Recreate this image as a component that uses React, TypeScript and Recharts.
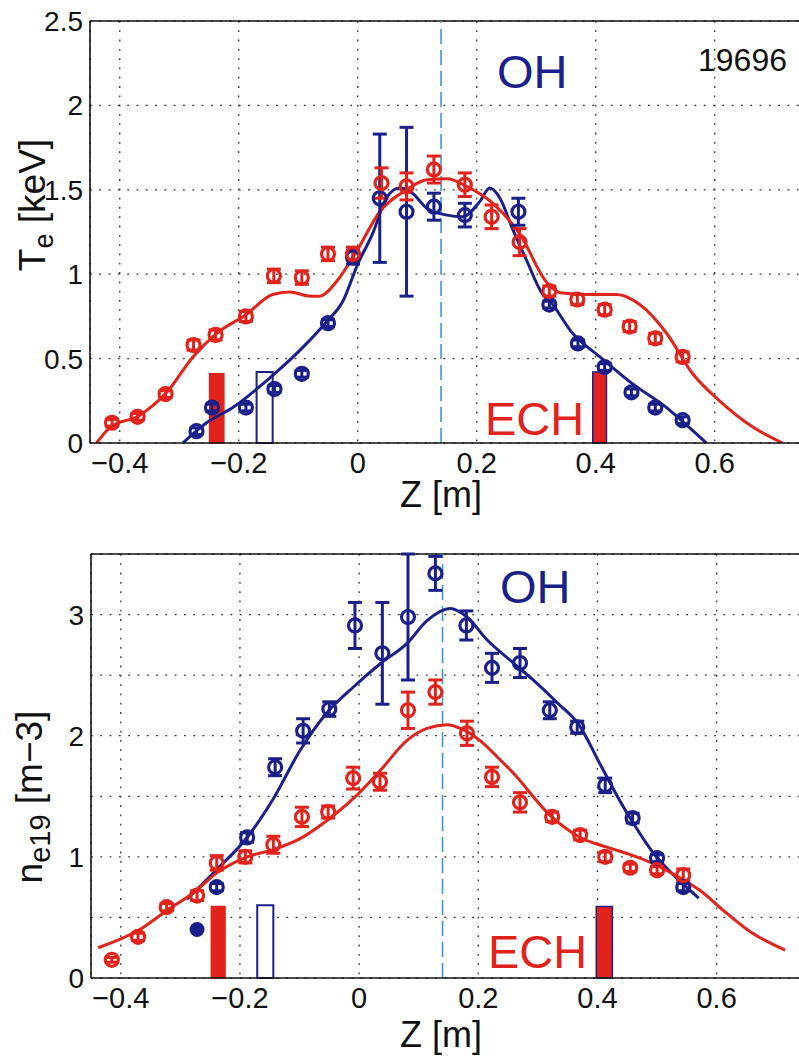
import React from 'react';
import {
  ComposedChart,
  Line,
  Scatter,
  ErrorBar,
  XAxis,
  YAxis,
  CartesianGrid,
  ReferenceLine,
  ReferenceArea,
} from 'recharts';

const RED = '#e2231c';
const BLUE = '#1b1f8a';
const DASH = '#3b98d8';
const FONT = '"Liberation Sans", Arial, Helvetica, sans-serif';

// axes
const zTicks = [-0.4, -0.2, 0, 0.2, 0.4, 0.6];
const teTicks = [0, 0.5, 1, 1.5, 2, 2.5];
const neTicks = [0, 0.5, 1, 1.5, 2, 2.5, 3, 3.5];
const pelletZ = 0.14;

// ---- Te panel (keV) ----
const teEchZ = [-0.413, -0.37, -0.323, -0.276, -0.239, -0.188, -0.141, -0.094, -0.05, -0.008, 0.04, 0.082, 0.128, 0.18, 0.225, 0.272, 0.322, 0.369, 0.415, 0.457, 0.5, 0.546];
const teEch = [0.12, 0.155, 0.29, 0.58, 0.64, 0.75, 0.99, 0.98, 1.12, 1.12, 1.54, 1.52, 1.62, 1.53, 1.34, 1.19, 0.9, 0.85, 0.79, 0.69, 0.62, 0.51];
const teEchErr = [0.02, 0.02, 0.02, 0.03, 0.03, 0.03, 0.04, 0.04, 0.04, 0.04, 0.09, 0.08, 0.08, 0.07, 0.07, 0.08, 0.03, 0.03, 0.03, 0.03, 0.03, 0.03];

const teOhZ = [-0.271, -0.245, -0.188, -0.14, -0.094, -0.05, -0.008, 0.037, 0.082, 0.128, 0.18, 0.27, 0.322, 0.37, 0.415, 0.46, 0.5, 0.546];
const teOh = [0.07, 0.21, 0.21, 0.32, 0.41, 0.71, 1.1, 1.45, 1.37, 1.4, 1.35, 1.37, 0.82, 0.59, 0.45, 0.3, 0.21, 0.135];
const teOhErr = [0.02, 0.02, 0.02, 0.02, 0.02, 0.02, 0.04, 0.38, 0.5, 0.08, 0.07, 0.08, 0.02, 0.02, 0.02, 0.02, 0.02, 0.02];

const teEchFit = [
  [-0.439, 0], [-0.417, 0.09], [-0.366, 0.165], [-0.321, 0.3], [-0.277, 0.51], [-0.237, 0.65],
  [-0.188, 0.76], [-0.143, 0.88], [-0.114, 0.895], [-0.08, 0.87], [-0.064, 0.87], [-0.035, 0.96],
  [-0.002, 1.135], [0.037, 1.37], [0.082, 1.5], [0.116, 1.56], [0.15, 1.565], [0.183, 1.52],
  [0.227, 1.42], [0.272, 1.24], [0.318, 0.95], [0.34, 0.89], [0.385, 0.88], [0.435, 0.88],
  [0.474, 0.82], [0.519, 0.65], [0.563, 0.41], [0.608, 0.25], [0.664, 0.095], [0.714, 0],
];
const teOhFit = [
  [-0.294, 0], [-0.254, 0.12], [-0.21, 0.21], [-0.153, 0.37], [-0.097, 0.55], [-0.052, 0.72],
  [-0.025, 0.84], [0.0, 1.06], [0.025, 1.24], [0.048, 1.45], [0.07, 1.51], [0.092, 1.48],
  [0.116, 1.39], [0.15, 1.35], [0.176, 1.34], [0.205, 1.43], [0.222, 1.51], [0.239, 1.45],
  [0.26, 1.27], [0.284, 1.08], [0.311, 0.88], [0.323, 0.84], [0.361, 0.65], [0.407, 0.51],
  [0.462, 0.35], [0.519, 0.21], [0.558, 0.09], [0.586, 0],
];
// ECH deposition markers [z1, z2, height]
const teEchBars = [[-0.249, -0.225, 0.41], [0.395, 0.418, 0.42]];
const teOhBar = [-0.17, -0.143, 0.42];

// ---- ne panel (1e19 m^-3) ----
const neEchZ = [-0.415, -0.371, -0.323, -0.272, -0.239, -0.191, -0.144, -0.096, -0.052, -0.01, 0.035, 0.082, 0.128, 0.181, 0.223, 0.27, 0.324, 0.371, 0.413, 0.455, 0.5, 0.544];
const neEch = [0.15, 0.34, 0.585, 0.68, 0.95, 1.0, 1.1, 1.33, 1.37, 1.65, 1.62, 2.21, 2.36, 2.02, 1.66, 1.45, 1.33, 1.18, 1.0, 0.91, 0.89, 0.85];
const neEchErr = [0.02, 0.03, 0.03, 0.04, 0.06, 0.05, 0.07, 0.08, 0.05, 0.09, 0.07, 0.15, 0.1, 0.1, 0.08, 0.08, 0.04, 0.04, 0.04, 0.03, 0.03, 0.05];

const neOhZ = [-0.239, -0.188, -0.141, -0.094, -0.05, -0.007, 0.039, 0.082, 0.128, 0.18, 0.223, 0.27, 0.32, 0.366, 0.413, 0.459, 0.5, 0.544];
const neOh = [0.75, 1.16, 1.74, 2.04, 2.22, 2.91, 2.68, 2.98, 3.34, 2.91, 2.56, 2.6, 2.21, 2.07, 1.59, 1.32, 0.99, 0.75];
const neOhErr = [0.03, 0.04, 0.07, 0.1, 0.06, 0.19, 0.42, 0.52, 0.14, 0.12, 0.12, 0.12, 0.07, 0.05, 0.06, 0.04, 0.03, 0.03];
const neOhSolidZ = [-0.272];
const neOhSolid = [0.4];

const neEchFit = [
  [-0.438, 0.25], [-0.368, 0.4], [-0.322, 0.56], [-0.279, 0.7], [-0.238, 0.87], [-0.188, 1.0],
  [-0.144, 1.06], [-0.099, 1.15], [-0.054, 1.3], [-0.01, 1.48], [0.035, 1.71], [0.08, 1.96],
  [0.114, 2.06], [0.148, 2.09], [0.17, 2.06], [0.203, 1.96], [0.237, 1.8], [0.259, 1.69],
  [0.321, 1.34], [0.371, 1.16], [0.416, 1.08], [0.46, 1.01], [0.5, 0.93], [0.544, 0.81],
  [0.573, 0.72], [0.606, 0.58], [0.657, 0.38], [0.715, 0.23],
];
const neOhFit = [
  [-0.289, 0.65], [-0.238, 0.9], [-0.188, 1.16], [-0.144, 1.48], [-0.099, 1.88], [-0.054, 2.19],
  [-0.01, 2.4], [0.037, 2.6], [0.08, 2.76], [0.114, 2.95], [0.153, 3.05], [0.181, 2.98],
  [0.215, 2.79], [0.259, 2.6], [0.292, 2.46], [0.333, 2.27], [0.369, 2.09], [0.405, 1.76],
  [0.438, 1.46], [0.46, 1.28], [0.494, 1.03], [0.534, 0.82], [0.57, 0.66],
];
const neEchBars = [[-0.248, -0.225, 0.59], [0.398, 0.425, 0.59]];
const neOhBar = [-0.171, -0.144, 0.6];

const pts = (z: number[], v: number[], e?: number[]) =>
  z.map((x, i) => ({ x, y: v[i], e: e ? e[i] : 0 }));
const curve = (c: number[][]) => c.map(([x, y]) => ({ x, y }));

const ring = (color: string) => (p: any) =>
  <circle cx={p.cx} cy={p.cy} r={6.5} fill="none" stroke={color} strokeWidth={3.2} />;
const disc = (color: string) => (p: any) =>
  <circle cx={p.cx} cy={p.cy} r={7.5} fill={color} />;

const minus = (v: number) => String(v).replace('-', '\u2212');

type PanelProps = {
  top: number;
  height: number;
  margin: { top: number; right: number; bottom: number; left: number };
  yWidth: number;
  xHeight: number;
  yMax: number;
  yTicks: number[];
  yFmt: (v: number) => string;
  ech: any[];
  oh: any[];
  echFit: any[];
  ohFit: any[];
  echBars: number[][];
  ohBar: number[];
  solid?: any[];
};

const Panel = (p: PanelProps) => (
  <div style={{ position: 'absolute', left: 0, top: p.top }}>
    <ComposedChart width={820} height={p.height} margin={p.margin}>
      <CartesianGrid stroke="#333" strokeDasharray="1.8 7.5" strokeWidth={1.3} />
      <XAxis
        type="number"
        dataKey="x"
        domain={[-0.45, 0.75]}
        ticks={zTicks}
        tickFormatter={minus}
        height={p.xHeight}
        tickLine={false}
        tickSize={0}
        tickMargin={9}
        axisLine={{ stroke: '#111', strokeWidth: 1.6 }}
        tick={{ fontSize: 29, fill: '#111', fontFamily: FONT }}
        allowDataOverflow
      />
      <YAxis
        type="number"
        dataKey="y"
        domain={[0, p.yMax]}
        ticks={p.yTicks}
        tickFormatter={p.yFmt}
        width={p.yWidth}
        tickLine={false}
        tickSize={0}
        tickMargin={7}
        axisLine={{ stroke: '#111', strokeWidth: 1.6 }}
        tick={{ fontSize: 28, fill: '#111', fontFamily: FONT }}
        allowDataOverflow
      />
      <ReferenceLine y={p.yMax} stroke="#111" strokeWidth={1.6} />
      <ReferenceLine x={pelletZ} stroke={DASH} strokeWidth={1.6} strokeDasharray="15 6" />
      {p.echBars.map((b, i) => (
        <ReferenceArea key={i} x1={b[0]} x2={b[1]} y1={0} y2={b[2]} fill={RED} fillOpacity={1}
          stroke={i === 0 ? RED : BLUE} strokeWidth={1.5} />
      ))}
      <ReferenceArea x1={p.ohBar[0]} x2={p.ohBar[1]} y1={0} y2={p.ohBar[2]} fill="#fff" fillOpacity={1}
        stroke={BLUE} strokeWidth={2} />
      <Line data={p.ohFit} dataKey="y" type="monotone" stroke={BLUE} strokeWidth={3} dot={false} isAnimationActive={false} />
      <Line data={p.echFit} dataKey="y" type="monotone" stroke={RED} strokeWidth={3} dot={false} isAnimationActive={false} />
      <Scatter data={p.oh} dataKey="y" shape={ring(BLUE)} isAnimationActive={false}>
        <ErrorBar dataKey="e" direction="y" width={7} stroke={BLUE} strokeWidth={3} />
      </Scatter>
      <Scatter data={p.ech} dataKey="y" shape={ring(RED)} isAnimationActive={false}>
        <ErrorBar dataKey="e" direction="y" width={7} stroke={RED} strokeWidth={3} />
      </Scatter>
      {p.solid && <Scatter data={p.solid} dataKey="y" shape={disc(BLUE)} isAnimationActive={false} />}
    </ComposedChart>
  </div>
);

export default function App() {
  return (
    <div style={{ position: 'fixed', left: 0, top: 0, width: 799, height: 1064, overflow: 'hidden', background: '#fff' }}>
      <Panel
        top={0}
        height={530}
        margin={{ top: 21, right: 16, bottom: 0, left: 0 }}
        yWidth={90}
        xHeight={87}
        yMax={2.5}
        yTicks={teTicks}
        yFmt={(v) => String(v)}
        ech={pts(teEchZ, teEch, teEchErr)}
        oh={pts(teOhZ, teOh, teOhErr)}
        echFit={curve(teEchFit)}
        ohFit={curve(teOhFit)}
        echBars={teEchBars}
        ohBar={teOhBar}
      />
      <Panel
        top={530}
        height={534}
        margin={{ top: 24, right: 14, bottom: 0, left: 0 }}
        yWidth={91}
        xHeight={86}
        yMax={3.5}
        yTicks={neTicks}
        yFmt={(v) => (Number.isInteger(v) && v < 3.5 ? String(v) : '')}
        ech={pts(neEchZ, neEch, neEchErr)}
        oh={pts(neOhZ, neOh, neOhErr)}
        echFit={curve(neEchFit)}
        ohFit={curve(neOhFit)}
        echBars={neEchBars}
        ohBar={neOhBar}
        solid={pts(neOhSolidZ, neOhSolid)}
      />
      <svg width={799} height={1064} style={{ position: 'absolute', left: 0, top: 0, pointerEvents: 'none' }}
        fontFamily={FONT}>
        <text x={698} y={71} fontSize={32} fill="#111">19696</text>
        <text x={497} y={88} fontSize={47} fill={BLUE}>OH</text>
        <text x={485} y={435} fontSize={47} fill={RED}>ECH</text>
        <text x={500} y={603} fontSize={47} fill={BLUE}>OH</text>
        <text x={488} y={968} fontSize={47} fill={RED}>ECH</text>
        <text x={441} y={507} fontSize={36} fill="#111" textAnchor="middle">Z [m]</text>
        <text x={441} y={1047} fontSize={36} fill="#111" textAnchor="middle">Z [m]</text>
        <text x={45} y={205} fontSize={37} fill="#111" textAnchor="middle" transform="rotate(-90 45 205)">
          T<tspan fontSize={27} dy={8}>e</tspan><tspan dy={-8}> [keV]</tspan>
        </text>
        <text x={42} y={797} fontSize={37} fill="#111" textAnchor="middle" transform="rotate(-90 42 797)">
          n<tspan fontSize={29} dy={8}>e19</tspan><tspan dy={-8}> [m{'\u2212'}3]</tspan>
        </text>
      </svg>
    </div>
  );
}
